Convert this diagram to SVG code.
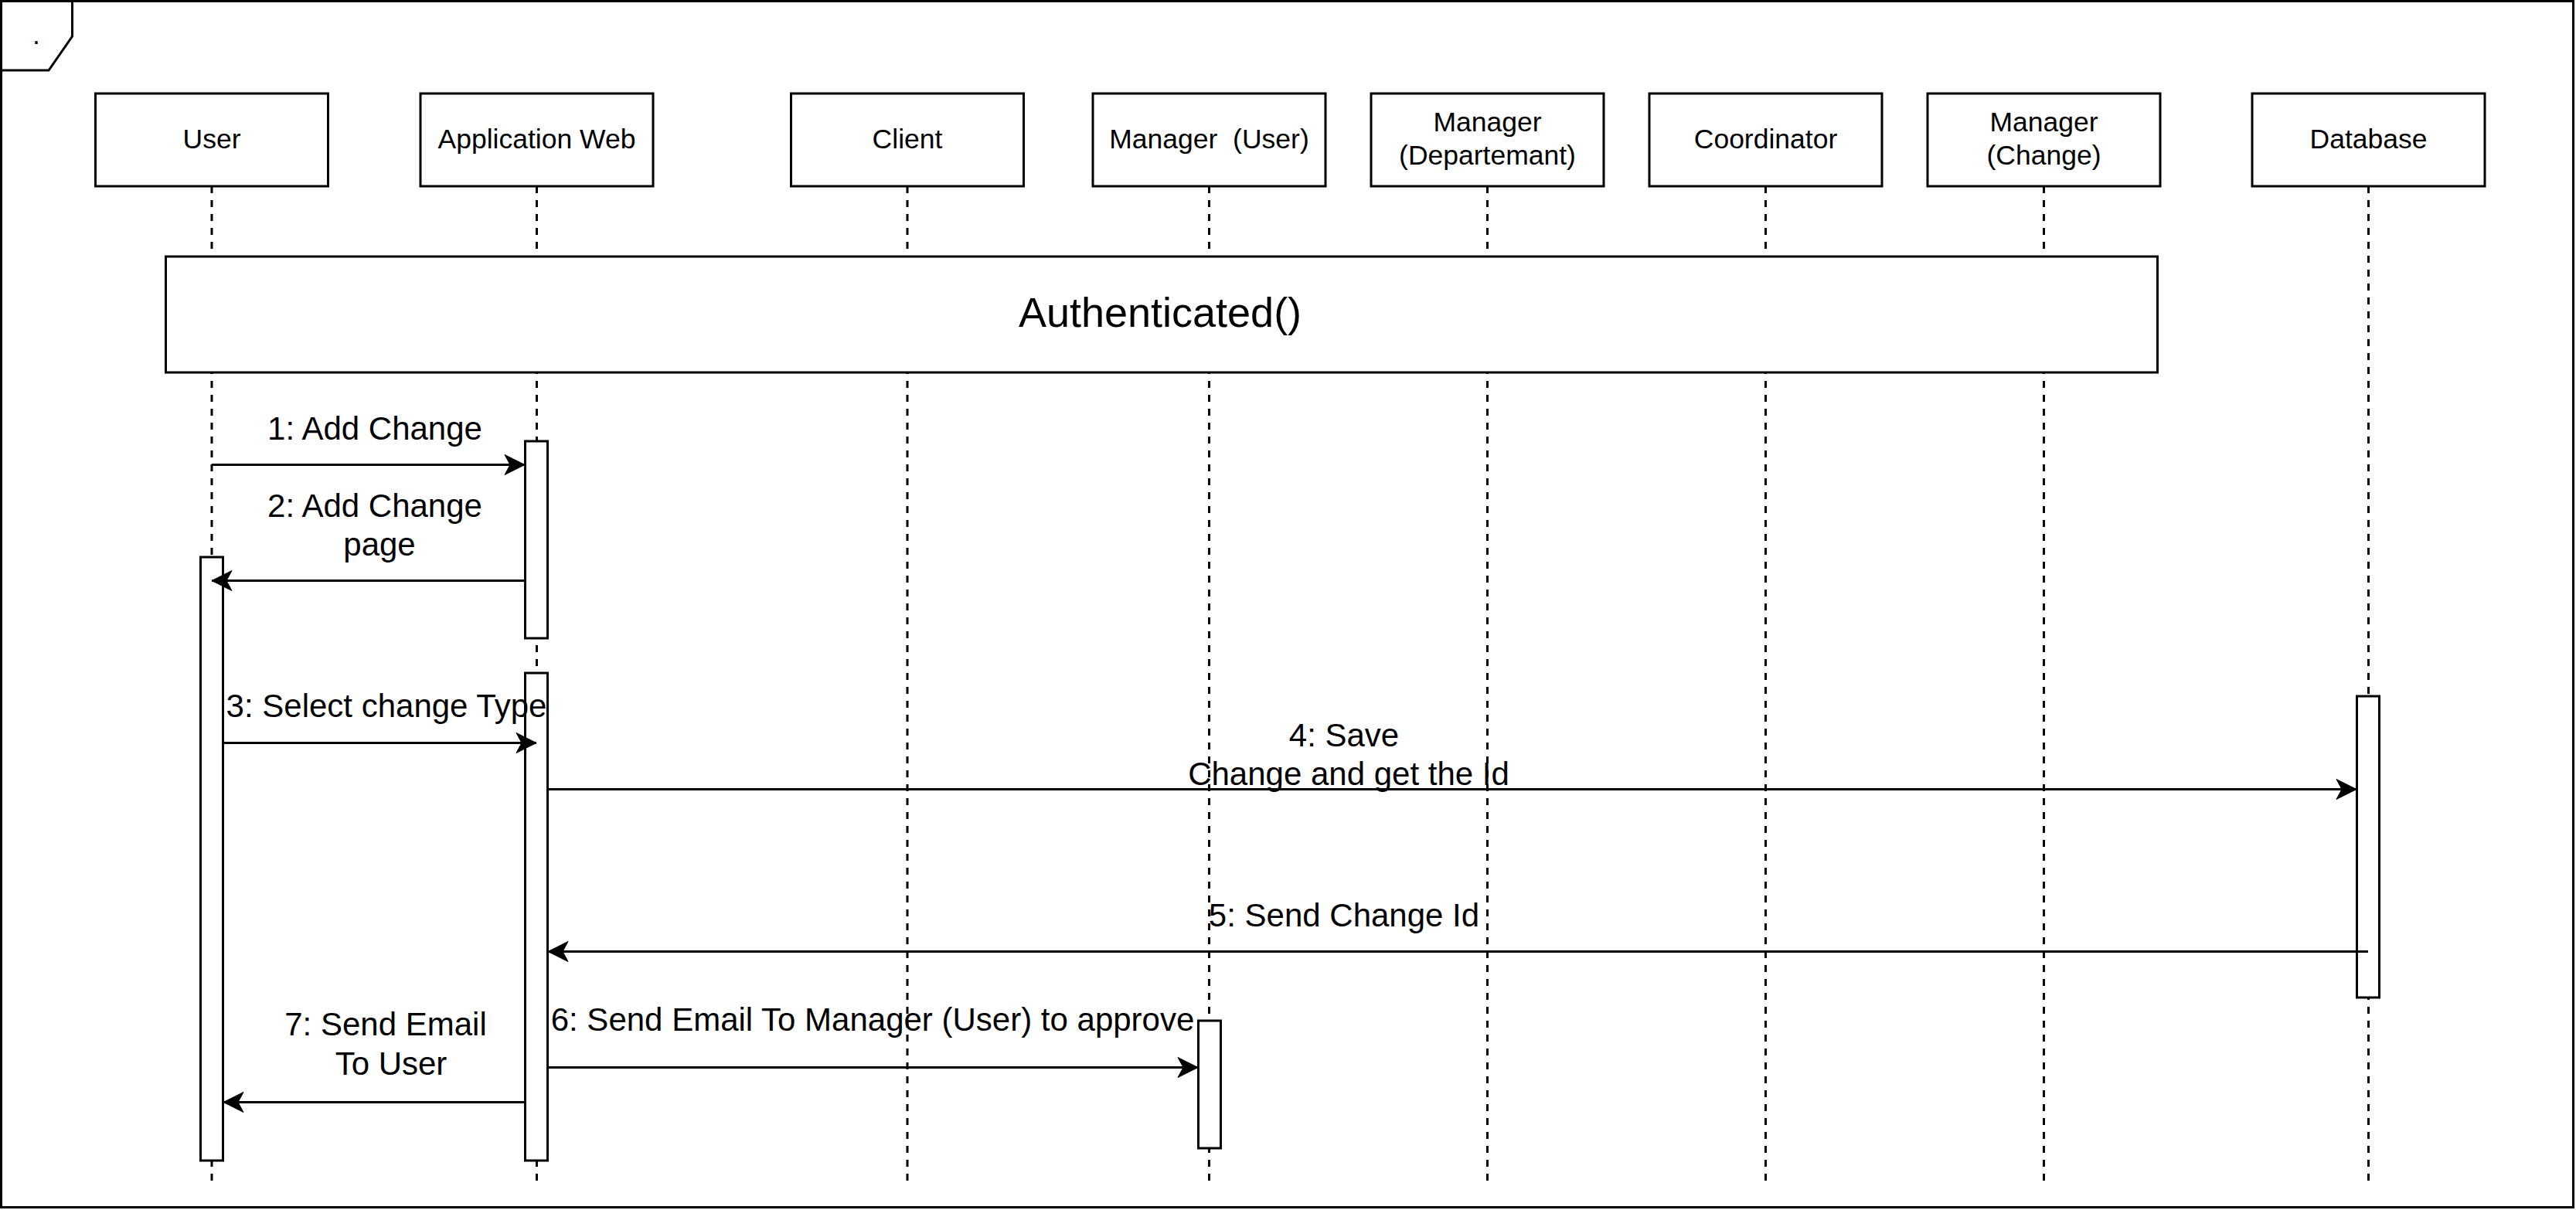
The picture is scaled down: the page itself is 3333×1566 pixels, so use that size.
<svg xmlns="http://www.w3.org/2000/svg" width="3333" height="1566" viewBox="0 0 3333 1566">
<style>
text{font-family:"Liberation Sans",Arial,Helvetica,sans-serif;fill:#000;text-anchor:middle}
.head{fill:#fff;stroke:#000;stroke-width:3}
.life{stroke:#000;stroke-width:3;stroke-dasharray:9 9;fill:none}
.act{fill:#fff;stroke:#000;stroke-width:3}
.nl{font-size:35.5px}
.ml{font-size:42px}
.msg{stroke:#000;stroke-width:3;fill:none;marker-end:url(#arr)}
</style>
<defs>
<marker id="arr" viewBox="-28 -15 30 30" refX="0" refY="0" markerWidth="30" markerHeight="30" markerUnits="userSpaceOnUse" orient="auto">
<path d="M0,0 L-26,-13 L-19,0 L-26,13 Z" fill="#000" stroke="#000" stroke-width="1"/>
</marker>
</defs>
<rect x="0" y="0" width="3333" height="1566" fill="#fff"/>
<g id="frame">
<rect x="1.5" y="1.5" width="3328" height="1561" fill="none" stroke="#000" stroke-width="3"/>
<path d="M1.5,91 H63 L93.5,47 V1.5" fill="none" stroke="#000" stroke-width="3"/>
<text x="47" y="57" class="nl">.</text>
</g>
<g id="lifelines">
<line class="life" x1="274" y1="241" x2="274" y2="1530"/>
<line class="life" x1="694.5" y1="241" x2="694.5" y2="1530"/>
<line class="life" x1="1174" y1="241" x2="1174" y2="1530"/>
<line class="life" x1="1564.5" y1="241" x2="1564.5" y2="1530"/>
<line class="life" x1="1924.5" y1="241" x2="1924.5" y2="1530"/>
<line class="life" x1="2284.5" y1="241" x2="2284.5" y2="1530"/>
<line class="life" x1="2644.5" y1="241" x2="2644.5" y2="1530"/>
<line class="life" x1="3064.5" y1="241" x2="3064.5" y2="1530"/>
</g>
<g id="user">
<rect class="head" x="123.5" y="121" width="301" height="120"/>
<text class="nl" x="274" y="192">User</text>
</g>
<g id="appweb">
<rect class="head" x="544" y="121" width="301" height="120"/>
<text class="nl" x="694.5" y="192">Application Web</text>
</g>
<g id="client">
<rect class="head" x="1023.5" y="121" width="301" height="120"/>
<text class="nl" x="1174" y="192">Client</text>
</g>
<g id="manager-user">
<rect class="head" x="1414" y="121" width="301" height="120"/>
<text class="nl" x="1564.5" y="192" xml:space="preserve" style="white-space:pre">Manager  (User)</text>
</g>
<g id="manager-departemant">
<rect class="head" x="1774" y="121" width="301" height="120"/>
<text class="nl" x="1924.5" y="170">Manager</text>
<text class="nl" x="1924.5" y="213">(Departemant)</text>
</g>
<g id="coordinator">
<rect class="head" x="2134" y="121" width="301" height="120"/>
<text class="nl" x="2284.5" y="192">Coordinator</text>
</g>
<g id="manager-change">
<rect class="head" x="2494" y="121" width="301" height="120"/>
<text class="nl" x="2644.5" y="170">Manager</text>
<text class="nl" x="2644.5" y="213">(Change)</text>
</g>
<g id="database">
<rect class="head" x="2914" y="121" width="301" height="120"/>
<text class="nl" x="3064.5" y="192">Database</text>
</g>
<g id="authenticated">
<rect class="head" x="214.5" y="332" width="2577" height="150"/>
<text x="1501" y="423" style="font-size:54px">Authenticated()</text>
</g>
<g id="activations">
<rect class="act" x="679.5" y="571" width="29" height="255"/>
<rect class="act" x="259.5" y="721" width="29" height="781"/>
<rect class="act" x="679.5" y="871" width="29" height="631"/>
<rect class="act" x="3049.5" y="901" width="29" height="390"/>
<rect class="act" x="1550.5" y="1321" width="29" height="165"/>
</g>
<g id="connectors">
<path class="msg" d="M274,601.5 H679"/>
<path class="msg" d="M679,751.5 H274"/>
<path class="msg" d="M289,961.5 H694"/>
<path class="msg" d="M709,1021.5 H3049"/>
<path class="msg" d="M3064,1231.5 H709"/>
<path class="msg" d="M709,1381.5 H1550"/>
<path class="msg" d="M679,1426.5 H289"/>
<text class="ml" x="485" y="569">1: Add Change</text>
<text class="ml" x="485" y="669">2: Add Change</text>
<text class="ml" x="491" y="719">page</text>
<text class="ml" x="500" y="928">3: Select change Type</text>
<text class="ml" x="1739" y="966">4: Save</text>
<text class="ml" x="1745" y="1016">Change and get the Id</text>
<text class="ml" x="1739" y="1199">5: Send Change Id</text>
<text class="ml" x="1129" y="1334">6: Send Email To Manager (User) to approve</text>
<text class="ml" x="499" y="1340">7: Send Email</text>
<text class="ml" x="506" y="1391">To User</text>
</g>
</svg>
